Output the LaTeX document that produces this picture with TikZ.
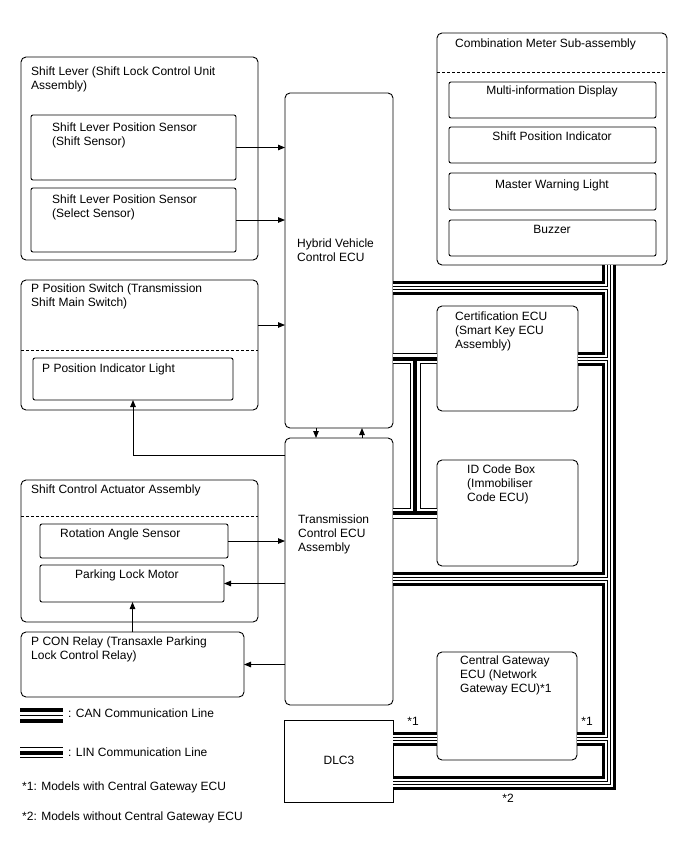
\documentclass[tikz,border=0pt]{standalone}
\usepackage{fontspec}
\setmainfont{Liberation Sans}
\usetikzlibrary{arrows.meta, positioning, calc}

\begin{document}
\begin{tikzpicture}[
  x=1pt, y=-1pt,
  every node/.style = {font=\fontsize{12}{14}\selectfont},
  outerbox/.style = {rectangle, rounded corners=5pt, draw, line width=0.9pt,
                     anchor=north west, inner sep=0pt, outer sep=0pt},
  innerbox/.style = {rectangle, rounded corners=2pt, draw, line width=0.9pt,
                     anchor=north west, inner sep=0pt, outer sep=0pt},
  plainbox/.style = {rectangle, draw, line width=0.9pt,
                     anchor=north west, inner sep=0pt, outer sep=0pt},
  txt/.style  = {anchor=north west, inner sep=0pt, align=left},
  ctxt/.style = {anchor=north, inner sep=0pt, align=center},
  sepline/.style = {dash pattern=on 3pt off 2pt, line width=0.9pt},
  arr/.style = {-{Triangle[length=7pt, width=5.5pt]}, line width=0.9pt},
]

\path[use as bounding box, fill=white] (0,0) rectangle (688,852);

%% ── Shift lever ──────────────────────────────────────────────────────────
\node[outerbox, minimum width=237pt, minimum height=203pt] at (21, 57) (lever) {};
\node[txt] at (31, 66.5) (levertxt) {Shift Lever (Shift Lock Control Unit\\Assembly)};
\node[innerbox, minimum width=205pt, minimum height=65pt] at (31, 115) (shiftsens) {};
\node[txt] at (52, 122.5) (shiftsenstxt) {Shift Lever Position Sensor\\(Shift Sensor)};
\node[innerbox, minimum width=205pt, minimum height=64pt] at (31, 188) (selectsens) {};
\node[txt] at (52, 194.5) (selectsenstxt) {Shift Lever Position Sensor\\(Select Sensor)};

%% ── P position switch ────────────────────────────────────────────────────
\node[outerbox, minimum width=237pt, minimum height=130pt] at (21, 280) (pswitch) {};
\node[txt] at (31, 283.5) (pswitchtxt) {P Position Switch (Transmission\\Shift Main Switch)};
\draw[sepline] ([yshift=-70pt]pswitch.north west) -- ([yshift=-70pt]pswitch.north east);
\node[innerbox, minimum width=200pt, minimum height=42pt] at (33, 358) (pind) {};
\node[txt] at (42, 363.5) (pindtxt) {P Position Indicator Light};

%% ── Shift control actuator ───────────────────────────────────────────────
\node[outerbox, minimum width=237pt, minimum height=142pt] at (21, 480) (actuator) {};
\node[txt] at (31, 484.5) (actuatortxt) {Shift Control Actuator Assembly};
\draw[sepline] ([yshift=-36pt]actuator.north west) -- ([yshift=-36pt]actuator.north east);
\node[innerbox, minimum width=188pt, minimum height=34pt] at (40, 524) (rotsens) {};
\node[txt] at (60, 528.5) (rotsenstxt) {Rotation Angle Sensor};
\node[innerbox, minimum width=184pt, minimum height=37pt] at (40, 565) (pmotor) {};
\node[txt] at (75, 569.5) (pmotortxt) {Parking Lock Motor};

\node[outerbox, minimum width=223pt, minimum height=65pt] at (21, 632) (pcon) {};
\node[txt] at (31, 636.5) (pcontxt) {P CON Relay (Transaxle Parking\\Lock Control Relay)};

%% ── ECUs in the middle ───────────────────────────────────────────────────
\node[outerbox, minimum width=108pt, minimum height=335pt] at (285, 93) (hv) {};
\node[txt] at (297, 238.5) (hvtxt) {Hybrid Vehicle\\Control ECU};
\node[outerbox, minimum width=108pt, minimum height=267pt] at (285, 438) (tc) {};
\node[txt] at (298, 514.5) (tctxt) {Transmission\\Control ECU\\Assembly};
\node[plainbox, minimum width=109pt, minimum height=82pt] at (284, 720) (dlc) {};
\node at (339, 760) (dlctxt) {DLC3};

%% ── Combination meter ────────────────────────────────────────────────────
\node[outerbox, minimum width=230pt, minimum height=232pt] at (437, 33) (meter) {};
\node[txt] at (455, 38.5) (metertxt) {Combination Meter Sub-assembly};
\draw[sepline] ([yshift=-39pt]meter.north west) -- ([yshift=-39pt]meter.north east);
\node[innerbox, minimum width=207pt, minimum height=36pt] at (449, 82) (mid) {};
\node[ctxt] at (552, 85.5) (midtxt) {Multi-information Display};
\node[innerbox, minimum width=207pt, minimum height=36pt] at (449, 127) (spi) {};
\node[ctxt] at (552, 131.5) (spitxt) {Shift Position Indicator};
\node[innerbox, minimum width=207pt, minimum height=37pt] at (449, 173) (mwl) {};
\node[ctxt] at (552, 179.5) (mwltxt) {Master Warning Light};
\node[innerbox, minimum width=207pt, minimum height=36pt] at (449, 220) (buzzer) {};
\node[ctxt] at (552, 225.5) (buzzertxt) {Buzzer};

%% ── Right column ECUs ────────────────────────────────────────────────────
\node[outerbox, minimum width=141pt, minimum height=105pt] at (437, 306) (cert) {};
\node[txt] at (455, 311.5) (certtxt) {Certification ECU\\(Smart Key ECU\\Assembly)};
\node[outerbox, minimum width=141pt, minimum height=106pt] at (437, 460) (idbox) {};
\node[txt] at (467, 464.5) (idboxtxt) {ID Code Box\\(Immobiliser\\Code ECU)};
\node[outerbox, minimum width=140pt, minimum height=108pt] at (437, 652) (gateway) {};
\node[txt] at (460, 655.5) (gatewaytxt) {Central Gateway\\ECU (Network\\Gateway ECU)*1};

%% ── Signal arrows ────────────────────────────────────────────────────────
\draw[arr] (shiftsens.east) -- (shiftsens.east -| hv.west);
\draw[arr] (selectsens.east) -- (selectsens.east -| hv.west);
\draw[arr] ([yshift=20pt]pswitch.east) -- ([yshift=20pt]pswitch.east -| hv.west);
\draw[arr] ([xshift=-23pt]hv.south) -- ([xshift=-23pt]tc.north);
\draw[arr] ([xshift=23pt]tc.north) -- ([xshift=23pt]hv.south);
\draw[arr] ([yshift=-17pt]tc.north west) -| (pind.south);
\draw[arr] (rotsens.east) -- (rotsens.east -| tc.west);
\draw[arr] (pmotor.east -| tc.west) -- (pmotor.east);
\draw[arr] (pcon.north) -- (pcon.north |- pmotor.south);
\draw[arr] (pcon.east -| tc.west) -- (pcon.east);

%% ── CAN bus (drawn in layers so the joints merge) ────────────────────────
\coordinate (trunk) at (609, 783);
\foreach \w/\c in {14pt/black, 8pt/white, 4pt/black, 2pt/white} {
  \draw[line width=\w, \c]
    (meter.south -| trunk) -- (trunk) -- (trunk -| dlc.east)
    ([yshift=-27.5pt]hv.east) -- ([yshift=-27.5pt]hv.east -| trunk)
    (cert.east) -- (cert.east -| trunk)
    ([yshift=-7.5pt]tc.east) -- ([yshift=-7.5pt]tc.east -| trunk)
    ([yshift=-33pt]gateway.east) -- ([yshift=-33pt]gateway.east -| trunk)
    ([yshift=-33pt]gateway.west) -- ([yshift=-33pt]gateway.west -| dlc.east);
}
\node at (413, 721) (star1a) {*1};
\node at (587, 721) (star1b) {*1};
\node at (508, 798) (star2) {*2};

%% ── LIN line ─────────────────────────────────────────────────────────────
\coordinate (linx) at (415, 436);
\foreach \w/\c in {11pt/black, 9pt/white, 4pt/black} {
  \draw[line width=\w, \c]
    (cert.west -| hv.east) -- (cert.west)
    (idbox.west -| tc.east) -- (idbox.west)
    (cert.west -| linx) -- (idbox.west -| linx);
}

%% ── Legend ───────────────────────────────────────────────────────────────
\coordinate (canA) at (20, 715.5);
\coordinate (canB) at (63, 715.5);
\coordinate (linA) at (20, 752.5);
\coordinate (linB) at (63, 752.5);
\foreach \w/\c in {15pt/black, 7pt/white, 1.5pt/black}
  \draw[line width=\w, \c] (canA) -- (canB);
\foreach \w/\c in {11pt/black, 9pt/white, 4pt/black}
  \draw[line width=\w, \c] (linA) -- (linB);
\node[anchor=west, inner sep=0pt] at (68, 713) (cantxt) {: CAN Communication Line};
\node[anchor=west, inner sep=0pt] at (68, 752) (lintxt) {: LIN Communication Line};
\node[anchor=west, inner sep=0pt] at (22, 787) (note1) {*1: Models with Central Gateway ECU};
\node[anchor=west, inner sep=0pt] at (22, 817) (note2) {*2: Models without Central Gateway ECU};

\end{tikzpicture}
\end{document}
